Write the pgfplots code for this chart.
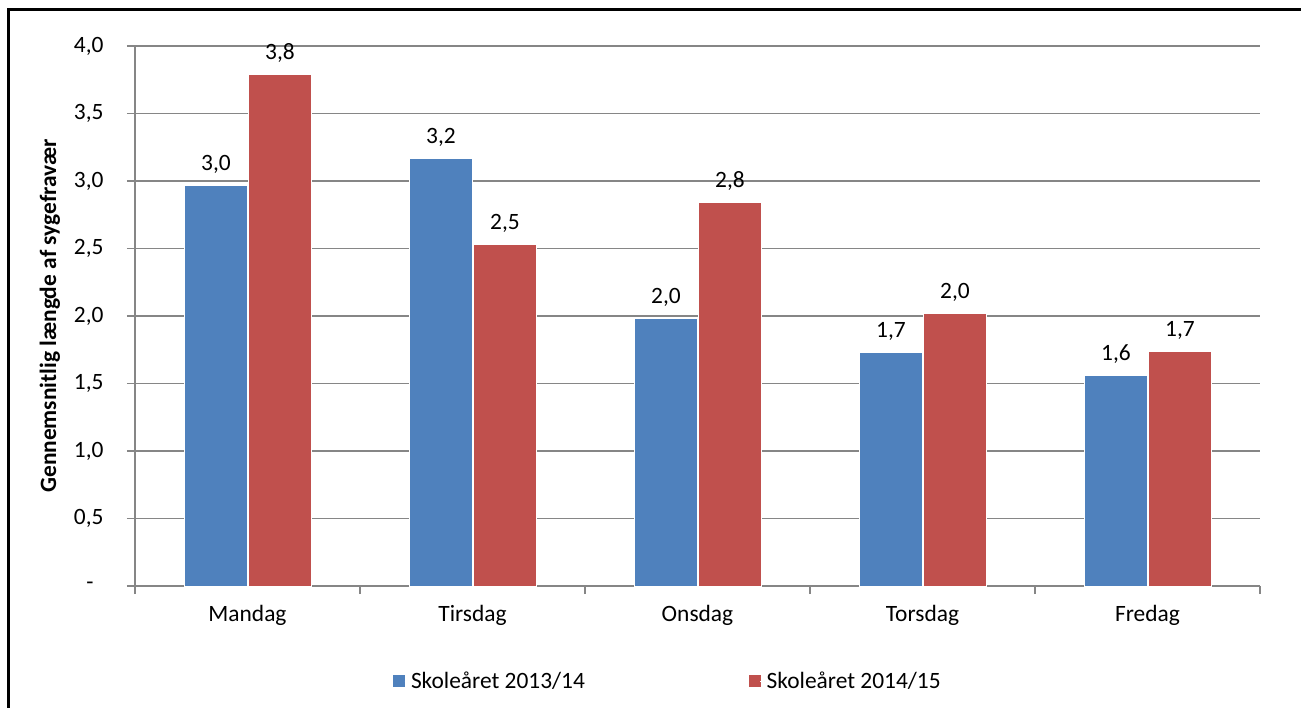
\documentclass[border=0pt]{standalone}
\usepackage{pgfplots}
\pgfplotsset{compat=1.18}
\usepackage{fontspec}
\setmainfont{Carlito}
\definecolor{blueb}{RGB}{79,129,189}
\definecolor{redb}{RGB}{192,80,77}
\definecolor{gridc}{RGB}{134,134,134}
\newcommand{\lf}{\fontsize{23.5}{28}\selectfont}
\begin{document}
\begin{tikzpicture}
\begin{axis}[
  name=ax,
  width=1125bp, height=540bp, scale only axis,
  xmin=-0.5, xmax=4.5, ymin=0, ymax=4,
  axis x line*=bottom, axis y line*=left,
  axis line style={gridc, line width=1.3bp},
  ytick={0,0.5,...,4},
  yticklabels={{-\hspace*{10bp}},{0,5},{1,0},{1,5},{2,0},{2,5},{3,0},{3,5},{4,0}},
  ymajorgrids, grid style={gridc,line width=1.3bp},
  tick style={gridc,line width=1.3bp},
  major tick length=8bp, tick align=outside,
  xtick={-0.5,0.5,...,4.5}, xticklabels={},
  extra x ticks={0,1,2,3,4},
  extra x tick labels={Mandag,Tirsdag,Onsdag,Torsdag,Fredag},
  extra x tick style={major tick length=0bp, grid=none},
  tick label style={font=\lf, text=black},
  yticklabel style={xshift=-20bp},
  xticklabel style={yshift=-16bp},
  ylabel={\bfseries Gennemsnitlig længde af sygefravær},
  ylabel style={font=\lf},
  ylabel shift=7bp,
  ybar, bar width=63bp,
  nodes near coords={\pgfmathprintnumber[fixed,fixed zerofill,precision=1,use comma,assume math mode=true]{\pgfplotspointmeta}},
  every node near coord/.append style={font=\lf, text=black, yshift=8bp},
  legend style={at={(0.2267,-0.176)}, anchor=west, draw=none, fill=none,
    legend columns=2, font=\lf,
    /tikz/every even column/.append style={column sep=162bp}},
  clip=false,
]
\addplot[fill=blueb, draw=white, line width=0.8bp, bar shift=-31.5bp,
  legend image code/.code={\fill[blueb] (-7bp,-5.5bp) rectangle (4bp,5.5bp); \path (4bp,0) -- (8bp,0);}]
  coordinates {(0,2.97) (1,3.17) (2,1.98) (3,1.73) (4,1.56)};
\addplot[fill=redb, draw=white, line width=0.8bp, bar shift=32.5bp,
  legend image code/.code={\fill[redb] (-7bp,-5.5bp) rectangle (4bp,5.5bp); \path (4bp,0) -- (8bp,0);}]
  coordinates {(0,3.79) (1,2.53) (2,2.84) (3,2.02) (4,1.74)};
\legend{Skoleåret 2013/14, Skoleåret 2014/15}
\end{axis}
\pgfresetboundingbox
\path[use as bounding box] ([xshift=-135bp,yshift=-122bp]ax.south west) rectangle ([xshift=1166bp,yshift=586bp]ax.south west);
\draw[line width=3bp] ([xshift=8.5bp]current bounding box.south west) -- ([xshift=8.5bp,yshift=-9.5bp]current bounding box.north west) -- ([yshift=-9.5bp]current bounding box.north east);
\end{tikzpicture}
\end{document}
